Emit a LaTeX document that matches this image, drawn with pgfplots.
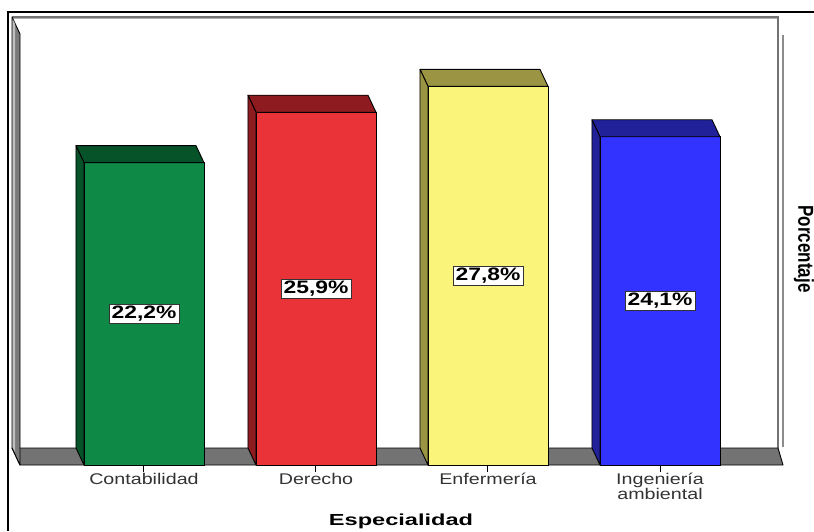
\documentclass[border=0pt]{standalone}
\usepackage{pgfplots}
\usepackage{pgfplotstable}
\pgfplotsset{compat=1.18}
\usepackage{fontspec}
\setmainfont{Liberation Sans}[FakeStretch=1.27]
\newfontfamily\plainfont{Liberation Sans}

\definecolor{verde}{RGB}{14,138,70}
\definecolor{verdeO}{RGB}{6,83,42}
\definecolor{rojo}{RGB}{234,51,57}
\definecolor{rojoO}{RGB}{142,27,31}
\definecolor{amarillo}{RGB}{250,244,122}
\definecolor{amarilloO}{RGB}{154,148,67}
\definecolor{azul}{RGB}{51,51,255}
\definecolor{azulO}{RGB}{33,33,154}
\definecolor{suelo}{RGB}{115,115,115}

\pgfdeclareplotmark{blank}{}

% porcentaje por especialidad
\pgfplotstableread{
x v
0 22.2
1 25.9
2 27.8
3 24.1
}\especialidad

\pgfplotsset{
  front/.style={ybar, bar width=120pt, bar shift=0pt, fill=#1, draw=black, line width=0.9pt},
  depth/.style={
    only marks, mark=blank, scatter,
    visualization depends on={rawy \as \val},
    scatter/@pre marker code/.code={
      \pgfmathsetmacro\h{\val*13.62}
      \pgfmathsetmacro\hb{17-\h}
      \pgfmathsetmacro\hn{-\h}
      \pgfmathsetmacro\hm{-\h/2}
      \filldraw[fill=#1, draw=black, line width=0.9pt, line join=round]
        (-60pt,0pt) -- (-68pt,17pt) -- (52pt,17pt) -- (60pt,0pt) -- cycle;
      \filldraw[fill=#1, draw=black, line width=0.9pt, line join=round]
        (-60pt,0pt) -- (-68pt,17pt) -- (-68pt,\hb pt) -- (-60pt,\hn pt) -- cycle;
      \node[fill=white, draw=black!80, line width=0.8pt, inner xsep=2.5pt, inner ysep=2pt,
            font=\fontsize{18}{18}\selectfont\bfseries]
        at (0pt,\hm pt) {\pgfmathprintnumber[fixed,fixed zerofill,precision=1,use comma,assume math mode=true]{\val}\%};
    },
    scatter/@post marker code/.code={}
  }
}

\begin{document}
\begin{tikzpicture}
\useasboundingbox (0,0) rectangle (814pt,531pt);
% walls and floor, in pixel-like coordinates (origin top left)
\begin{scope}[x=1pt, y=-1pt, shift={(0pt,531pt)}]
  \fill[white] (12,17) rectangle (778,448);
  \draw[black!55, line width=1.3pt] (12,17) -- (778,17) -- (778,448);
  \draw[black!30, line width=1pt] (13,19) -- (777,19);
  \draw[black!45, line width=1.2pt] (783,35) -- (783,447);
  \filldraw[fill=suelo, draw=black, line width=0.9pt, line join=round]
    (12,448) -- (778,448) -- (783,465) -- (20,465) -- cycle;
  \filldraw[fill=black!52, draw=black, line width=0.9pt, line join=round]
    (12,17) -- (20,34) -- (20,465) -- (12,448) -- cycle;
  \fill[black!25] (12.6,19) -- (15,24) -- (15,452) -- (12.6,447) -- cycle;
  \draw[black, line width=1.5pt] (814,12) -- (8,12) -- (8,531);
\end{scope}

\begin{axis}[
  at={(12pt,66pt)}, anchor=south west,
  x=172pt, y=13.62pt,
  xmin=-0.7674, xmax=3.7151, ymin=0, ymax=32.89,
  clip=false,
  axis line style={draw=none},
  ytick=\empty,
  xtick={0,1,2,3},
  xticklabels={Contabilidad,Derecho,Enfermería,{Ingeniería\\ambiental}},
  xtick pos=left,
  tick align=outside,
  major tick length=7pt,
  tick style={black, line width=1pt},
  xticklabel style={align=center, text=black!80, inner sep=1pt,
    font=\fontsize{15.5}{14.5}\selectfont},
]
  \addplot[front=verde] table[x=x, y=v, restrict x to domain=-0.5:0.5] {\especialidad};
  \addplot[depth=verdeO] table[x=x, y=v, restrict x to domain=-0.5:0.5] {\especialidad};
  \addplot[front=rojo] table[x=x, y=v, restrict x to domain=0.5:1.5] {\especialidad};
  \addplot[depth=rojoO] table[x=x, y=v, restrict x to domain=0.5:1.5] {\especialidad};
  \addplot[front=amarillo] table[x=x, y=v, restrict x to domain=1.5:2.5] {\especialidad};
  \addplot[depth=amarilloO] table[x=x, y=v, restrict x to domain=1.5:2.5] {\especialidad};
  \addplot[front=azul] table[x=x, y=v, restrict x to domain=2.5:3.5] {\especialidad};
  \addplot[depth=azulO] table[x=x, y=v, restrict x to domain=2.5:3.5] {\especialidad};
\end{axis}

\node[font=\fontsize{16}{16}\selectfont\bfseries] at (401pt,10pt) {\scalebox{1.16}[1]{Especialidad}};
\node[rotate=-90] at (804pt,282pt)
  {\plainfont\fontsize{17}{17}\selectfont\bfseries\scalebox{1}[1.27]{Porcentaje}};
\end{tikzpicture}
\end{document}
